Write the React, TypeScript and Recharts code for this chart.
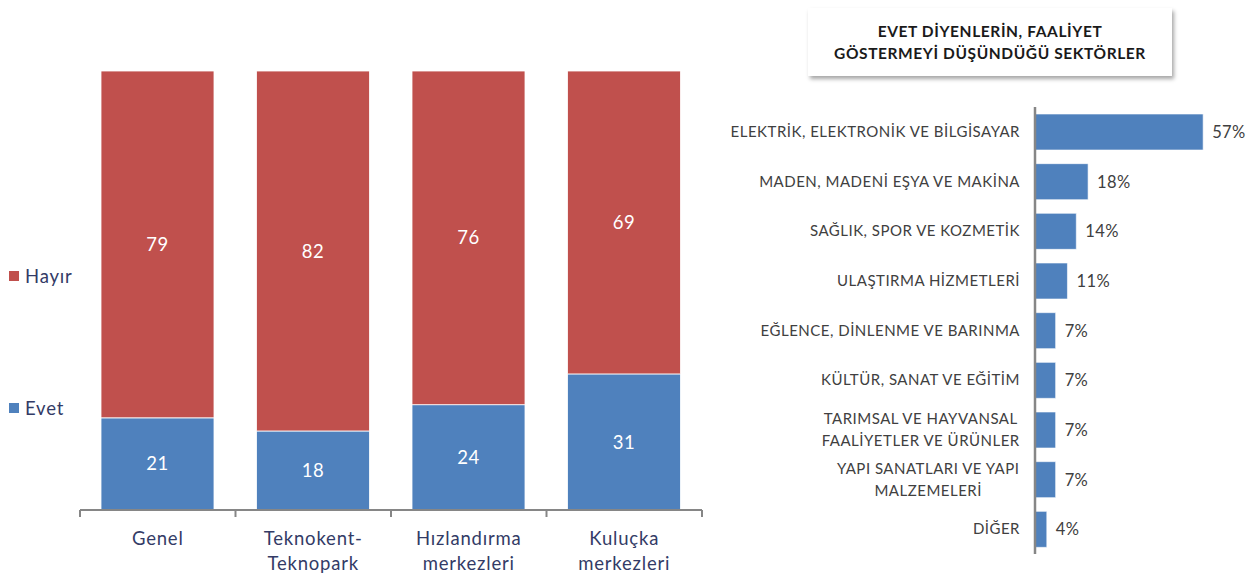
import { BarChart, Bar, XAxis, YAxis, LabelList, Legend } from 'recharts'

const groups = ['Genel', 'Teknokent-\nTeknopark', 'Hızlandırma\nmerkezleri', 'Kuluçka\nmerkezleri']
const evet = [21, 18, 24, 31]
const hayir = [79, 82, 76, 69]

const sectors = [
  'ELEKTRİK, ELEKTRONİK VE BİLGİSAYAR',
  'MADEN, MADENİ EŞYA VE MAKİNA',
  'SAĞLIK, SPOR VE KOZMETİK',
  'ULAŞTIRMA HİZMETLERİ',
  'EĞLENCE, DİNLENME VE BARINMA',
  'KÜLTÜR, SANAT VE EĞİTİM',
  'TARIMSAL VE HAYVANSAL\nFAALİYETLER VE ÜRÜNLER',
  'YAPI SANATLARI VE YAPI\nMALZEMELERİ',
  'DİĞER',
]
const sectorShares = [57, 18, 14, 11, 7, 7, 7, 7, 4]

const title = ['EVET DİYENLERİN, FAALİYET', 'GÖSTERMEYİ DÜŞÜNDÜĞÜ SEKTÖRLER']

const RED = '#C0504D'
const BLUE = '#4F81BD'
const NAVY = '#333B66'
const GREY_TEXT = '#404040'
const AXIS = '#868686'
const FONT = 'Lato, "Open Sans", sans-serif'

const groupData = groups.map((name, i) => ({ name, Evet: evet[i], Hayır: hayir[i] }))
const sectorData = sectors.map((name, i) => ({ name, value: sectorShares[i] }))

// left chart geometry
const L_W = 720
const L_H = 581
const L_MARGIN = { top: 71, right: 18, bottom: 0, left: 80 }
const L_AXIS_H = 71
const L_BAND = (L_W - L_MARGIN.left - L_MARGIN.right) / groups.length

const SECTOR_FS = 15
const SECTOR_LS = 0.5

const measureCtx = typeof document !== 'undefined' ? document.createElement('canvas').getContext('2d') : null
function textWidth(s: string, font: string, spacing: number) {
  if (!measureCtx) return s.length * 8
  measureCtx.font = font
  return measureCtx.measureText(s).width + spacing * s.length
}

function GroupTick(props: any) {
  const { x, y, payload, index } = props
  const lines = String(payload.value).split('\n')
  const half = L_BAND / 2
  return (
    <g>
      <line x1={x - half} y1={y} x2={x - half} y2={y + 7} stroke={AXIS} strokeWidth={2} />
      {index === groups.length - 1 && (
        <line x1={x + half} y1={y} x2={x + half} y2={y + 7} stroke={AXIS} strokeWidth={2} />
      )}
      {lines.map((t, i) => (
        <text
          key={i}
          x={x}
          y={y + 35 + i * 25}
          textAnchor="middle"
          fill={NAVY}
          fontSize={18.5}
          letterSpacing={0.8}
          fontFamily={FONT}
        >
          {t}
        </text>
      ))}
    </g>
  )
}

function SectorTick(props: any) {
  const { x, y, payload } = props
  const lines = String(payload.value).split('\n')
  const right = x - 15
  if (lines.length === 1) {
    return (
      <text x={right} y={y} dy={5} textAnchor="end" fill={GREY_TEXT} fontSize={SECTOR_FS} letterSpacing={SECTOR_LS} fontFamily={FONT}>
        {lines[0]}
      </text>
    )
  }
  const font = `${SECTOR_FS}px ${FONT}`
  const w = Math.max(...lines.map((t) => textWidth(t, font, SECTOR_LS)))
  const cx = right - w / 2
  return (
    <g>
      {lines.map((t, i) => (
        <text
          key={i}
          x={cx}
          y={y - 11 + i * 22}
          dy={5}
          textAnchor="middle"
          fill={GREY_TEXT}
          fontSize={SECTOR_FS}
          letterSpacing={SECTOR_LS}
          fontFamily={FONT}
        >
          {t}
        </text>
      ))}
    </g>
  )
}

function SideLegend(props: any) {
  const items = [...(props.payload || [])].reverse()
  const tops = [265, 397]
  return (
    <div style={{ position: 'relative', width: 0, height: 0 }}>
      {items.map((it: any, i: number) => (
        <div
          key={it.value}
          style={{
            position: 'absolute',
            left: 9,
            top: tops[i],
            display: 'flex',
            alignItems: 'center',
            whiteSpace: 'nowrap',
            fontFamily: FONT,
            fontSize: 18.5,
            letterSpacing: 0.8,
            color: NAVY,
          }}
        >
          <span style={{ width: 10, height: 10, background: it.color, marginRight: 6, display: 'inline-block' }} />
          {it.value}
        </div>
      ))}
    </div>
  )
}

export default function App() {
  return (
    <div style={{ position: 'absolute', left: 0, top: 0, width: 1258, height: 581, background: '#fff', overflow: 'hidden' }}>
      <div style={{ position: 'absolute', left: 0, top: 0 }}>
        <BarChart width={L_W} height={L_H} data={groupData} margin={L_MARGIN}>
          <XAxis
            dataKey="name"
            height={L_AXIS_H}
            tickSize={0}
            tickMargin={0}
            tickLine={false}
            axisLine={{ stroke: AXIS, strokeWidth: 2 }}
            tick={<GroupTick />}
            interval={0}
          />
          <YAxis hide domain={[0, 100]} />
          <Legend
            content={<SideLegend />}
            wrapperStyle={{ position: 'absolute', left: 0, top: 0, width: 0, height: 0 }}
          />
          <Bar dataKey="Evet" stackId="a" fill={BLUE} barSize={113} stroke="#ffffff" strokeOpacity={0.8} strokeWidth={1} isAnimationActive={false}>
            <LabelList dataKey="Evet" position="center" fill="#ffffff" fontSize={18.5} letterSpacing={0.5} fontFamily={FONT} />
          </Bar>
          <Bar dataKey="Hayır" stackId="a" fill={RED} barSize={113} stroke="#ffffff" strokeOpacity={0.8} strokeWidth={1} isAnimationActive={false}>
            <LabelList dataKey="Hayır" position="center" fill="#ffffff" fontSize={18.5} letterSpacing={0.5} fontFamily={FONT} />
          </Bar>
        </BarChart>
      </div>

      <div
        style={{
          position: 'absolute',
          left: 808,
          top: 8,
          width: 364,
          height: 68,
          background: '#fff',
          boxShadow: '2px 3px 4px rgba(0,0,0,0.35)',
          display: 'flex',
          flexDirection: 'column',
          alignItems: 'center',
          justifyContent: 'center',
          fontFamily: FONT,
          fontWeight: 700,
          fontSize: 15.5,
          letterSpacing: 0.6,
          lineHeight: '22px',
          color: '#1a1a1a',
        }}
      >
        {title.map((t) => (
          <div key={t}>{t}</div>
        ))}
      </div>

      <div style={{ position: 'absolute', left: 700, top: 0 }}>
        <BarChart
          width={558}
          height={581}
          data={sectorData}
          layout="vertical"
          margin={{ top: 107, right: 46, bottom: 27, left: 0 }}
        >
          <XAxis type="number" hide domain={[0, 60]} />
          <YAxis
            type="category"
            dataKey="name"
            width={335}
            tickSize={0}
            tickMargin={0}
            tickLine={false}
            axisLine={{ stroke: AXIS, strokeWidth: 2.5 }}
            tick={<SectorTick />}
            interval={0}
          />
          <Bar dataKey="value" fill={BLUE} barSize={36} stroke="#ffffff" strokeOpacity={0.6} strokeWidth={1} isAnimationActive={false}>
            <LabelList
              dataKey="value"
              position="right"
              offset={9}
              fill={GREY_TEXT}
              fontSize={16.5}
              letterSpacing={0.4}
              fontFamily={FONT}
              formatter={(v: any) => `${v}%`}
            />
          </Bar>
        </BarChart>
      </div>
    </div>
  )
}
